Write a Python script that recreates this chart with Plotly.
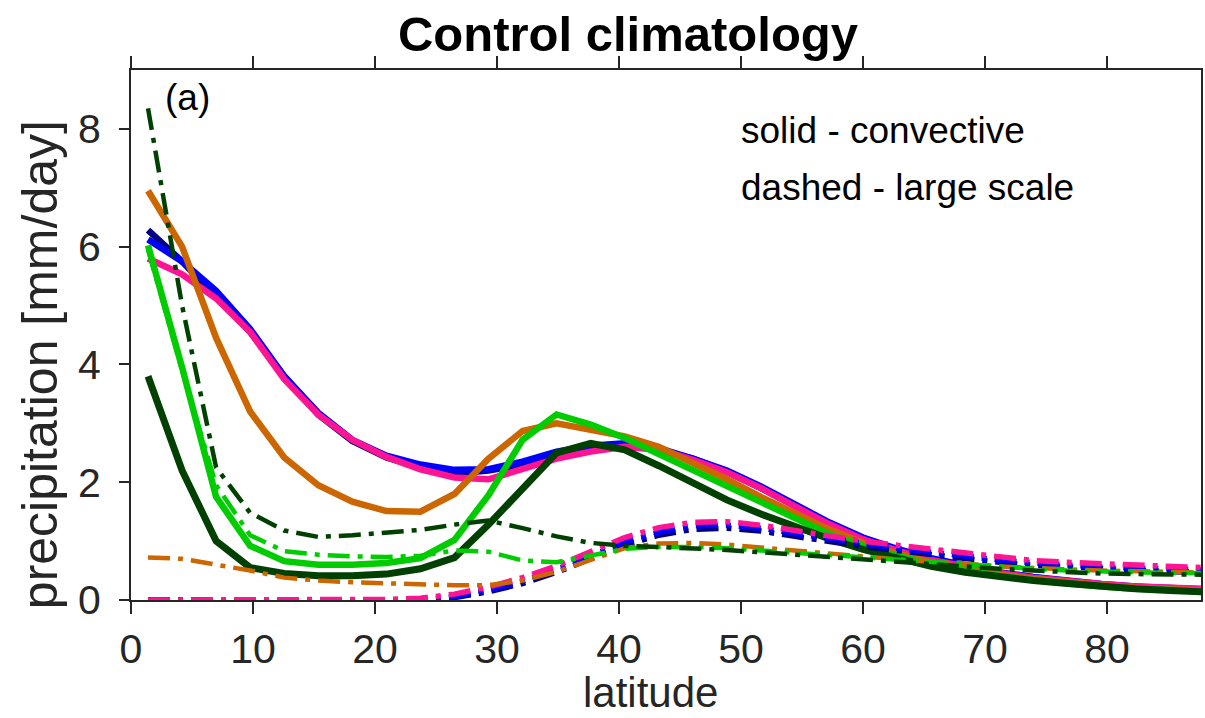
import plotly.graph_objects as go

# Gaussian (T42) latitudes, northern hemisphere
lat = [1.395, 4.186, 6.977, 9.767, 12.558, 15.349, 18.139, 20.930, 23.721, 26.511,
       29.302, 32.093, 34.883, 37.674, 40.465, 43.255, 46.046, 48.837, 51.627, 54.418,
       57.209, 59.999, 62.790, 65.581, 68.371, 71.162, 73.953, 76.743, 79.534, 82.325,
       85.116, 87.864]

# convective precipitation (solid)
conv_navy = [6.28, 5.75, 5.15, 4.55, 3.8, 3.15, 2.7, 2.42, 2.25, 2.15, 2.2, 2.3, 2.45, 2.58, 2.62, 2.55,
             2.4, 2.18, 1.9, 1.6, 1.3, 1.05, 0.85, 0.69, 0.56, 0.46, 0.38, 0.31, 0.26, 0.22, 0.19, 0.17]
conv_blue = [6.12, 5.75, 5.25, 4.6, 3.8, 3.18, 2.72, 2.45, 2.3, 2.21, 2.22, 2.35, 2.52, 2.62, 2.66, 2.58,
             2.4, 2.2, 1.93, 1.62, 1.32, 1.06, 0.87, 0.71, 0.58, 0.47, 0.39, 0.32, 0.27, 0.23, 0.2, 0.18]
conv_pink = [5.8, 5.53, 5.12, 4.55, 3.75, 3.15, 2.72, 2.43, 2.22, 2.08, 2.05, 2.22, 2.4, 2.52, 2.6, 2.56,
             2.38, 2.17, 1.9, 1.59, 1.29, 1.03, 0.84, 0.68, 0.56, 0.46, 0.38, 0.32, 0.27, 0.23, 0.2, 0.19]
conv_orange = [6.95, 6.0, 4.45, 3.2, 2.42, 1.95, 1.67, 1.51, 1.5, 1.8, 2.4, 2.87, 3.0, 2.9, 2.78, 2.6,
               2.33, 2.05, 1.75, 1.46, 1.2, 0.97, 0.79, 0.64, 0.53, 0.43, 0.36, 0.3, 0.25, 0.21, 0.18, 0.16]
conv_green = [6.02, 3.95, 1.75, 0.92, 0.66, 0.6, 0.6, 0.63, 0.71, 1.02, 1.78, 2.72, 3.15, 2.98, 2.75, 2.48,
              2.2, 1.92, 1.64, 1.37, 1.12, 0.92, 0.75, 0.61, 0.5, 0.41, 0.34, 0.28, 0.23, 0.19, 0.16, 0.15]
conv_dkgreen = [3.8, 2.2, 1.0, 0.55, 0.45, 0.41, 0.41, 0.44, 0.53, 0.72, 1.28, 1.9, 2.5, 2.66, 2.55, 2.28,
                1.98, 1.7, 1.46, 1.24, 1.04, 0.86, 0.7, 0.57, 0.47, 0.39, 0.33, 0.28, 0.23, 0.19, 0.16, 0.14]

# large-scale precipitation (dash-dot)
ls_navy = [0, 0, 0, 0, 0, 0, 0, 0, 0.0, 0.04, 0.14, 0.28, 0.47, 0.7, 0.93, 1.1,
           1.2, 1.22, 1.17, 1.08, 0.99, 0.91, 0.84, 0.77, 0.7, 0.64, 0.59, 0.56, 0.53, 0.5, 0.48, 0.47]
ls_blue = [0, 0, 0, 0, 0, 0, 0, 0, 0.0, 0.06, 0.17, 0.32, 0.51, 0.75, 0.98, 1.15,
           1.26, 1.27, 1.22, 1.13, 1.04, 0.95, 0.88, 0.81, 0.74, 0.68, 0.63, 0.59, 0.56, 0.54, 0.52, 0.51]
ls_pink = [0, 0, 0, 0, 0, 0, 0, 0.01, 0.03, 0.1, 0.22, 0.38, 0.58, 0.82, 1.06, 1.23,
           1.32, 1.33, 1.27, 1.18, 1.08, 1.0, 0.93, 0.87, 0.8, 0.73, 0.67, 0.64, 0.62, 0.6, 0.57, 0.55]
ls_orange = [0.72, 0.7, 0.6, 0.5, 0.38, 0.33, 0.3, 0.28, 0.26, 0.25, 0.25, 0.33, 0.48, 0.68, 0.88, 0.96,
             0.97, 0.94, 0.89, 0.84, 0.78, 0.73, 0.69, 0.65, 0.62, 0.57, 0.54, 0.52, 0.5, 0.49, 0.48, 0.47]
ls_green = [5.95, 3.9, 1.95, 1.1, 0.83, 0.77, 0.74, 0.73, 0.75, 0.84, 0.82, 0.67, 0.64, 0.75, 0.87, 0.9,
            0.9, 0.88, 0.84, 0.8, 0.76, 0.72, 0.68, 0.64, 0.6, 0.56, 0.53, 0.5, 0.48, 0.47, 0.46, 0.46]
ls_dkgreen = [8.35, 5.0, 2.25, 1.48, 1.18, 1.07, 1.1, 1.14, 1.19, 1.28, 1.35, 1.22, 1.08, 0.97, 0.92, 0.9,
              0.88, 0.85, 0.81, 0.77, 0.72, 0.68, 0.65, 0.61, 0.57, 0.53, 0.5, 0.47, 0.45, 0.44, 0.43, 0.43]

x_ticks = [0, 10, 20, 30, 40, 50, 60, 70, 80]
y_ticks = [0, 2, 4, 6, 8]

series = [
    ("#000080", conv_navy, ls_navy),
    ("#0000FF", conv_blue, ls_blue),
    ("#FF1493", conv_pink, ls_pink),
    ("#CC6600", conv_orange, ls_orange),
    ("#00CC00", conv_green, ls_green),
    ("#004000", conv_dkgreen, ls_dkgreen),
]

fig = go.Figure()
DASH = "22px,8px,5px,8px"
for color, conv, ls in series:
    fig.add_trace(go.Scatter(x=lat, y=conv, mode="lines",
                             line=dict(color=color, width=7 if color == "#004000" else 6.5),
                             showlegend=False))
for color, conv, ls in series:
    fig.add_trace(go.Scatter(x=lat, y=ls, mode="lines",
                             line=dict(color=color, width=5.5 if color in ("#000080", "#0000FF", "#FF1493") else 4.5,
                                       dash=DASH),
                             showlegend=False))

FONT = "Liberation Sans, Arial, sans-serif"
TXT = "#262626"
L, R, T, B = 131, 2, 70, 118
W, H = 1205, 718
pw, ph = W - L - R, H - T - B

def px(xp):
    return (xp - L) / pw

def py(yp):
    return (H - B - yp) / ph

fig.update_layout(
    width=W, height=H,
    margin=dict(l=L, r=R, t=T, b=B),
    plot_bgcolor="white", paper_bgcolor="white",
    font=dict(family=FONT, color=TXT),
    title=dict(text="<b>Control climatology</b>", font=dict(size=49, color="black", family=FONT),
               x=628 / W, xanchor="center", xref="container",
               y=1 - 34 / H, yanchor="middle", yref="container"),
    xaxis=dict(range=[0, 87.7], tickvals=x_ticks, ticktext=[str(v) for v in x_ticks],
               ticks="outside", ticklen=12, tickwidth=2, tickcolor=TXT,
               showline=True, linecolor=TXT, linewidth=2, mirror="ticks",
               showgrid=False, zeroline=False,
               tickfont=dict(size=41, color=TXT, family=FONT)),
    yaxis=dict(range=[0, 9], tickvals=y_ticks, ticktext=[str(v) for v in y_ticks],
               ticks="outside", ticklen=10, tickwidth=2, tickcolor=TXT,
               showline=True, linecolor=TXT, linewidth=2, mirror=True,
               showgrid=False, zeroline=False, ticklabelstandoff=10,
               tickfont=dict(size=41, color=TXT, family=FONT)),
    annotations=[
        dict(text="(a)", x=px(163), y=py(97), xref="paper", yref="paper",
             xanchor="left", yanchor="middle", showarrow=False,
             font=dict(size=37, color="black", family=FONT)),
        dict(text="solid - convective", x=px(740), y=py(130), xref="paper", yref="paper",
             xanchor="left", yanchor="middle", showarrow=False,
             font=dict(size=37, color="black", family=FONT)),
        dict(text="dashed - large scale", x=px(740), y=py(188), xref="paper", yref="paper",
             xanchor="left", yanchor="middle", showarrow=False,
             font=dict(size=37, color="black", family=FONT)),
        dict(text="latitude", x=px(651), y=py(718), xref="paper", yref="paper",
             xanchor="center", yanchor="bottom", showarrow=False,
             font=dict(size=42, color=TXT, family=FONT)),
        dict(text="precipitation [mm/day]", x=px(40), y=py(365), xref="paper", yref="paper",
             xanchor="center", yanchor="middle", showarrow=False, textangle=-90,
             font=dict(size=50, color=TXT, family=FONT)),
    ],
)

fig.write_html("out.html")
